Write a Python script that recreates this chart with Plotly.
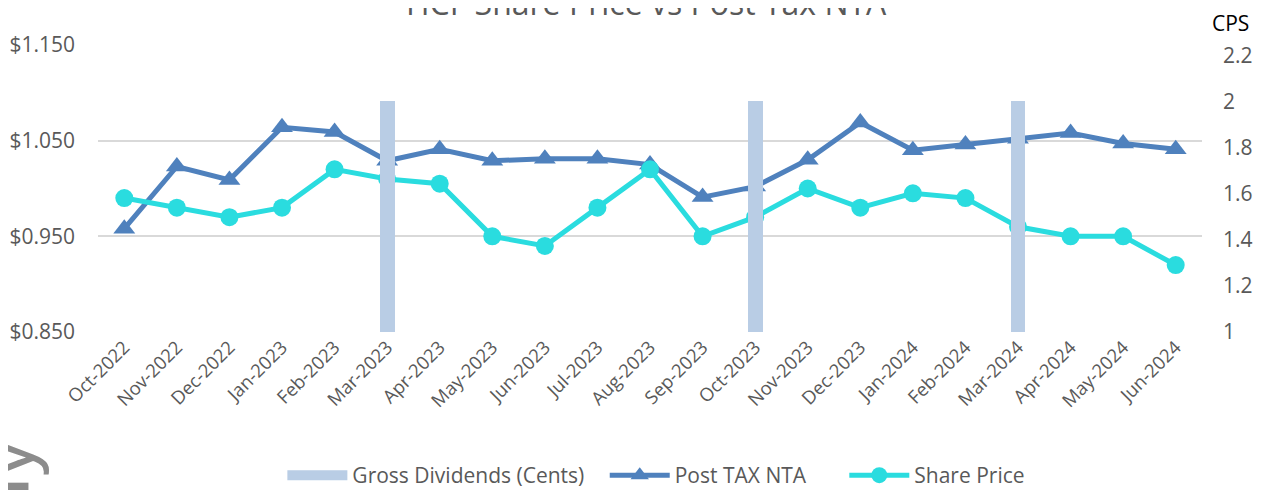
import plotly.graph_objects as go

months = ["Oct-2022", "Nov-2022", "Dec-2022", "Jan-2023", "Feb-2023", "Mar-2023", "Apr-2023",
          "May-2023", "Jun-2023", "Jul-2023", "Aug-2023", "Sep-2023", "Oct-2023", "Nov-2023",
          "Dec-2023", "Jan-2024", "Feb-2024", "Mar-2024", "Apr-2024", "May-2024", "Jun-2024"]
gross_dividends = [None, None, None, None, None, 2.0, None, None, None, None, None, None, 2.0,
                   None, None, None, None, 2.0, None, None, None]
post_tax_nta = [0.958, 1.023, 1.009, 1.064, 1.059, 1.029, 1.041, 1.029, 1.031, 1.031, 1.025,
                0.991, 1.002, 1.030, 1.069, 1.040, 1.046, 1.052, 1.058, 1.047, 1.041]
share_price = [0.990, 0.980, 0.970, 0.980, 1.020, 1.010, 1.005, 0.950, 0.940, 0.980, 1.020,
               0.950, 0.970, 1.000, 0.980, 0.995, 0.990, 0.960, 0.950, 0.950, 0.920]
left_ticks = [0.85, 0.95, 1.05, 1.15]

FONT = "Open Sans"
GREY = "#595959"
BAR_C = "#B9CDE5"

fig = go.Figure()
fig.add_trace(go.Bar(x=months, y=gross_dividends, name="Gross Dividends (Cents)",
                     marker=dict(color=BAR_C, line=dict(width=0)), width=0.285, yaxis="y2",
                     showlegend=False))
# legend-only entry drawn as a wide block like the reference's swatch
fig.add_trace(go.Scatter(x=[None], y=[None], name="Gross Dividends (Cents)", mode="lines",
                         line=dict(color=BAR_C, width=15), legend="legend"))
fig.add_trace(go.Scatter(x=months, y=post_tax_nta, name="Post TAX NTA", mode="lines+markers",
                         line=dict(color="#4F81BD", width=5),
                         marker=dict(symbol="triangle-up", size=19, color="#4F81BD"),
                         legend="legend2"))
fig.add_trace(go.Scatter(x=months, y=share_price, name="Share Price", mode="lines+markers",
                         line=dict(color="#2ADCDF", width=5),
                         marker=dict(symbol="circle", size=18, color="#2ADCDF"),
                         legend="legend3"))

leg = dict(orientation="h", xanchor="left", y=-0.5, yanchor="middle",
           font=dict(size=21, color=GREY, family=FONT), itemwidth=60,
           bgcolor="rgba(0,0,0,0)")

fig.update_layout(
    width=1263, height=482,
    margin=dict(l=90, r=69, t=37, b=158, autoexpand=False),
    paper_bgcolor="white", plot_bgcolor="white",
    font=dict(family=FONT, color=GREY, size=19),
    showlegend=True,
    legend=dict(leg, x=0.167),
    legend2=dict(leg, x=0.459),
    legend3=dict(leg, x=0.676),
    xaxis=dict(type="category", range=[-0.5, 20.5], tickangle=-45, showgrid=False,
               showline=False, tickfont=dict(size=18.5, color=GREY), ticks="",
               automargin=False),
    yaxis=dict(range=[0.85, 1.15], tickvals=left_ticks, tickformat="$.3f",
               showgrid=True, gridcolor="#D9D9D9", gridwidth=2, zeroline=False,
               showline=False, ticks="", ticklabelstandoff=22, automargin=False,
               tickfont=dict(size=21, color=GREY)),
    yaxis2=dict(range=[1, 2.245], dtick=0.2, tick0=1, overlaying="y", side="right",
                showgrid=False, zeroline=False, showline=False, ticks="", automargin=False,
                ticklabelstandoff=20, tickfont=dict(size=21, color=GREY)),
    bargap=0.0,
)

fig.add_annotation(text="HCF Share Price vs Post Tax NTA", xref="paper", yref="paper",
                   x=0.497, y=1, yshift=43, xanchor="center", yanchor="middle",
                   showarrow=False, font=dict(size=32, color=GREY, family=FONT))
fig.add_annotation(text="CPS", xref="paper", yref="paper", x=1.0, y=1, xshift=8, yshift=22,
                   xanchor="left", yanchor="middle", showarrow=False,
                   font=dict(size=21, color="black", family=FONT))
fig.add_annotation(text="y", xref="paper", yref="paper", x=0, y=0, xshift=-92, yshift=-126,
                   xanchor="center", yanchor="middle", textangle=-90, showarrow=False,
                   font=dict(size=76, color="#8C8C8C", family="Liberation Sans"))
fig.add_shape(type="rect", xref="paper", yref="paper", x0=-0.09, x1=-0.063,
              y0=-0.56, y1=-0.525, fillcolor="#8C8C8C", line=dict(width=0), layer="above")

fig.write_html("out.html")
